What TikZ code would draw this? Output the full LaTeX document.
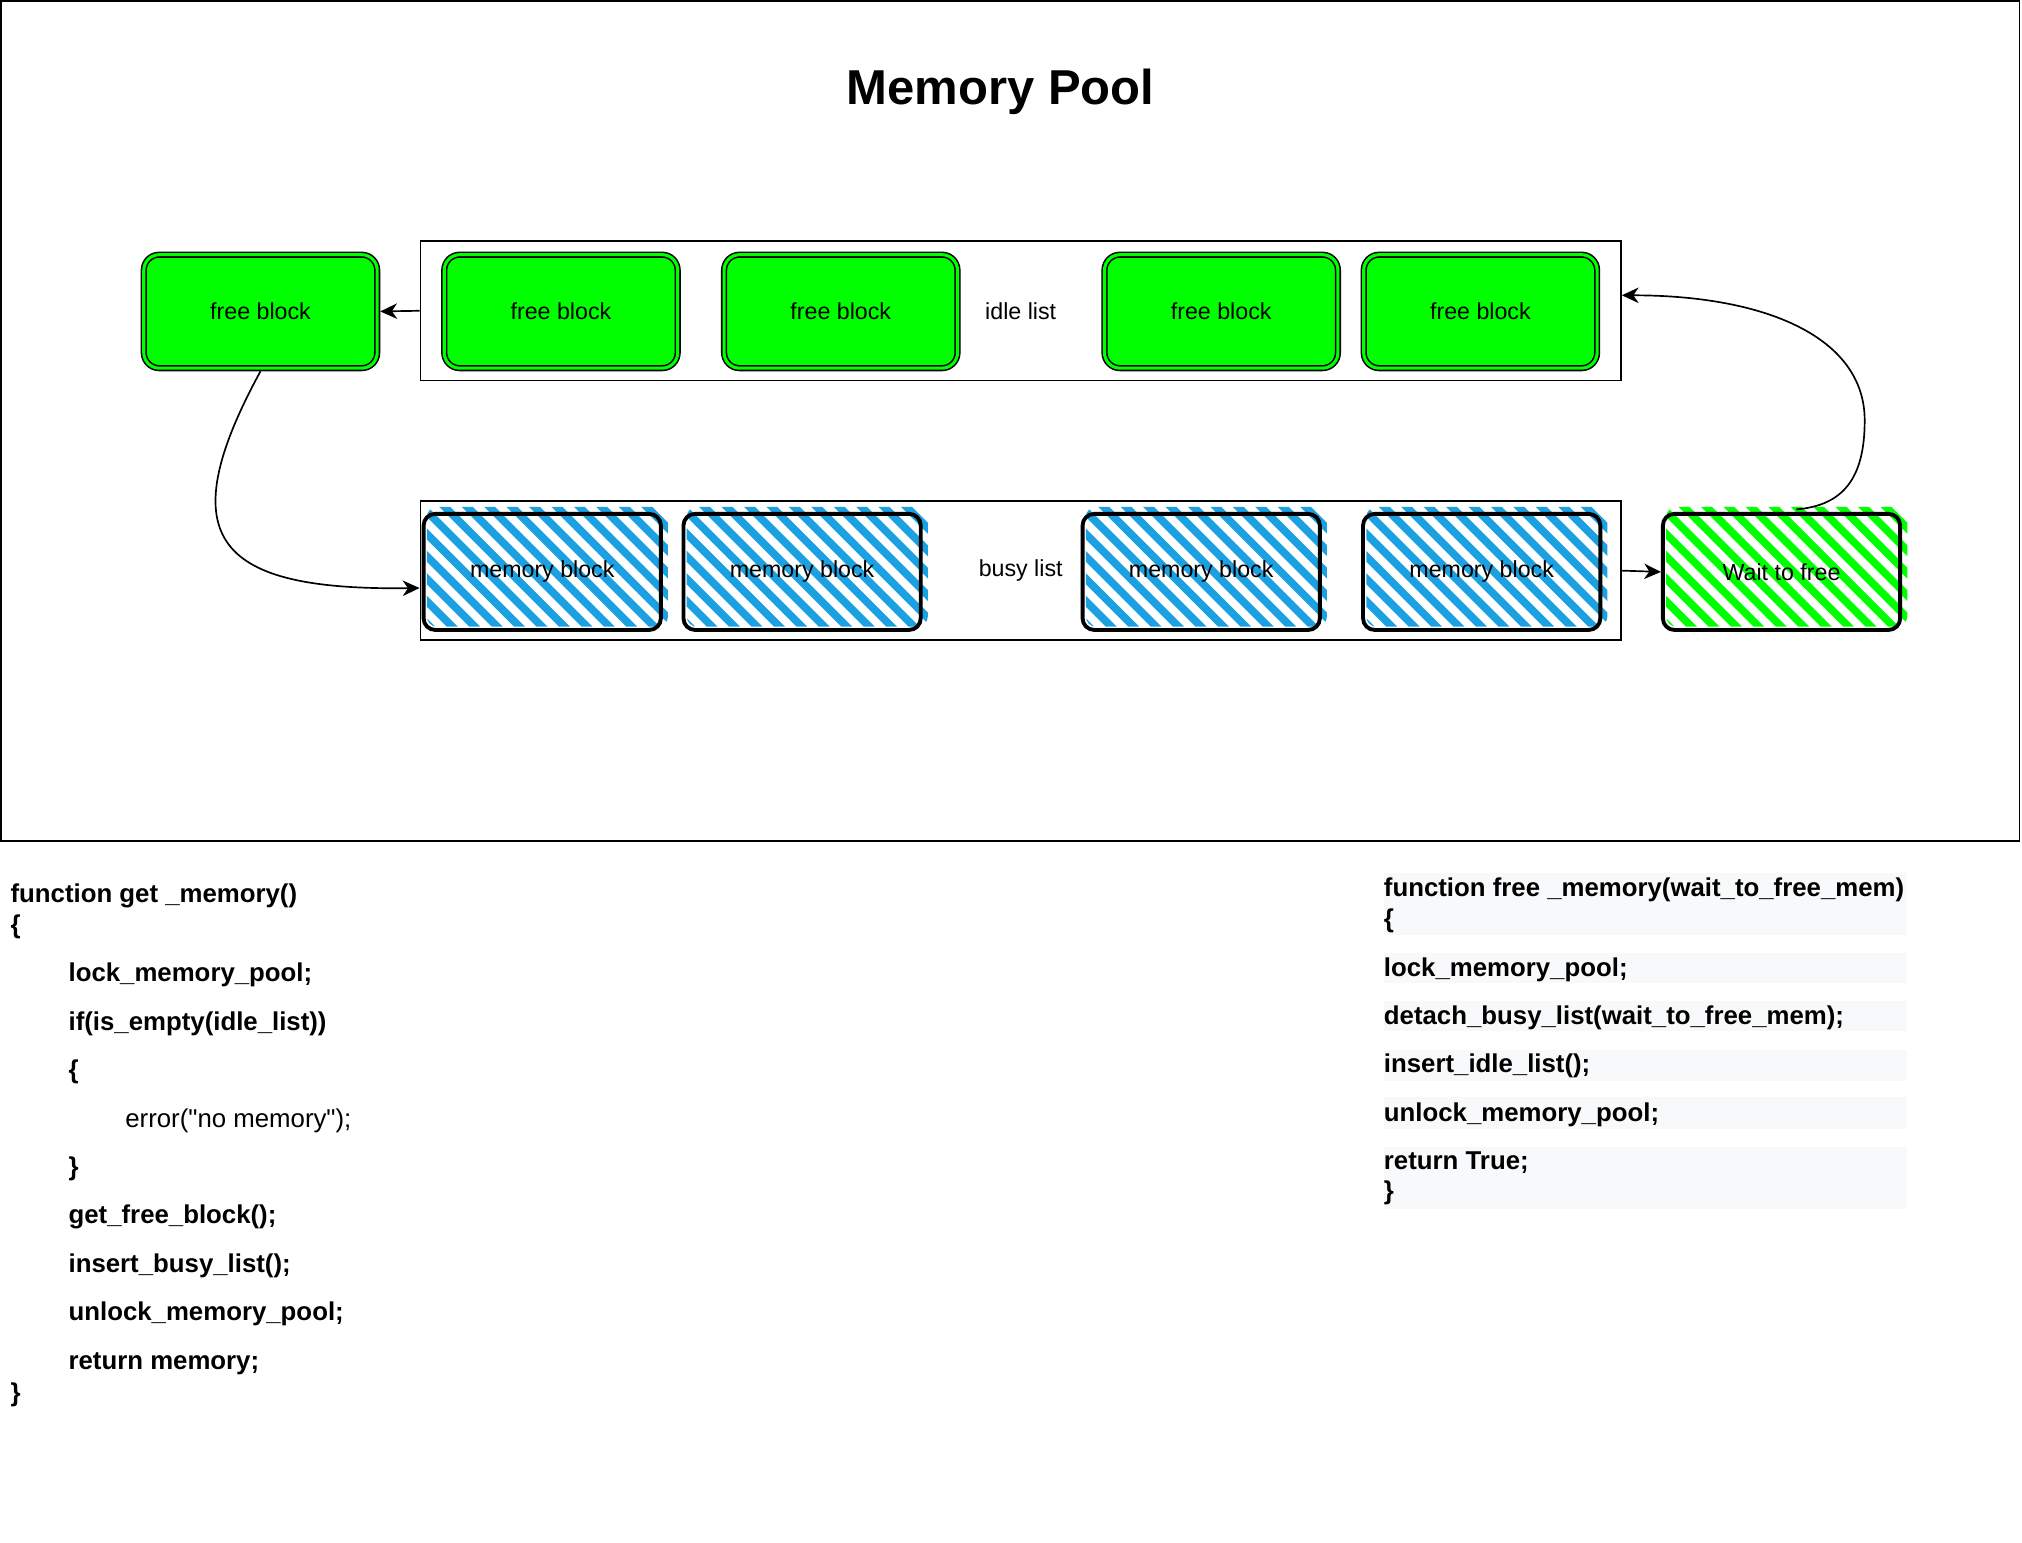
\documentclass[tikz,border=0pt]{standalone}
\usepackage{fontspec}
\setmainfont{Liberation Sans}
\usetikzlibrary{arrows.meta,calc,backgrounds}
\definecolor{fgreen}{HTML}{00FF00}
\definecolor{hblue}{HTML}{1BA1E2}
\definecolor{codebg}{HTML}{F8F9FA}
\newcommand\lblfont{\fontsize{18}{22}\selectfont}
\newcommand\codefont{\fontsize{20}{24}\selectfont\bfseries}
\newcommand\coderegfont{\fontsize{20}{24}\selectfont}
\newcommand\titlefont{\fontsize{38}{44}\selectfont\bfseries}
\begin{document}
\begin{tikzpicture}[x=1pt,y=-1pt,
  freeblk/.style={draw=black, double=fgreen, double distance=2.4pt, line width=1.2pt, fill=fgreen,
    rounded corners=12pt, minimum width=181pt, minimum height=88pt, outer sep=2.4pt, font=\lblfont, inner sep=0pt},
  memblk/.style={draw=black, line width=3pt, rounded corners=9pt, minimum width=184pt, minimum height=90pt,
    font=\lblfont, inner sep=0pt},
  listbox/.style={draw=black, line width=1.3pt, minimum width=931pt, minimum height=108pt, font=\lblfont, inner sep=0pt},
  arr/.style={line width=1.3pt, -{Stealth[length=13pt,width=12pt,inset=4pt]}},
  code/.style={anchor=base west, font=\codefont, inner sep=0pt},
  codereg/.style={anchor=base west, font=\coderegfont, inner sep=0pt},
  hatchline/.style={line width=6pt, line cap=round},
  bandbg/.style={fill=codebg}
]
\useasboundingbox (0,0) rectangle (1568,1196);

% outer frame
\draw[line width=1.3pt] (1,1) rectangle (1566,652);

% title
\node[font=\titlefont, anchor=base, inner sep=0pt] (title) at (776,81.4) {Memory Pool};

% lists
\node[listbox] (idle) at (791.5,241) {idle list};
\node[listbox] (busy) at (791.5,442.5) {busy list};

% free blocks
\node[freeblk] (f0) at (202,241.5) {free block};
\node[freeblk] (f1) at (435,241.5) {free block};
\node[freeblk] (f2) at (652,241.5) {free block};
\node[freeblk] (f3) at (947,241.5) {free block};
\node[freeblk] (f4) at (1148,241.5) {free block};

% memory blocks
\node[memblk] (m1) at (420.5,443.5) {memory block};
\node[memblk] (m2) at (622,443.5) {memory block};
\node[memblk] (m3) at (931.5,443.5) {memory block};
\node[memblk] (m4) at (1149,443.5) {memory block};
\node[memblk] (wt) at (1381.5,443.5) {Wait to free};

\begin{scope}[on background layer]
  \fill[white] (0,0) rectangle (1568,1196);
  \foreach \n/\c in {m1/hblue, m2/hblue, m3/hblue, m4/hblue, wt/fgreen} {
    \begin{scope}
      \clip[rounded corners=8pt] ($(\n.south west)+(4,-4)$) rectangle ($(\n.north east)+(4,-4)$);
      \foreach \k in {0,...,18}
        \draw[hatchline, draw=\c] ($(\n.north west)+(-110+\k*17.4,-10)$) -- ++(130,130);
    \end{scope}
  }
\end{scope}

% connectors
\coordinate (fin) at ($(busy.west)+(0,13.5)$);
\coordinate (wout) at ($(wt.north)+(11.5,-2)$);
\coordinate (iin) at ($(idle.east)+(0,-12)$);
\draw[arr] (idle.west) -- (f0.east);
\draw[arr] (f0.south) .. controls (130,420) and (170,458) .. (fin);
\draw[arr] (busy.east) -- (wt.west);
\draw[arr] (wout) .. controls (1430,392) and (1446,370) .. (1446,326) .. controls (1446,262) and (1370,229) .. (iin);

% left code
\node[code] (l1) at (8,700) {function get \_memory()};
\node[code] (l2) at (8,724) {\{};
\node[code] (l3) at (53,761) {lock\_memory\_pool;};
\node[code] (l4) at (53,799) {if(is\_empty(idle\_list))};
\node[code] (l5) at (53,836.5) {\{};
\node[codereg] (l6) at (97,874) {error(\textquotedbl no memory\textquotedbl);};
\node[code] (l7) at (53,911.5) {\}};
\node[code] (l8) at (53,949) {get\_free\_block();};
\node[code] (l9) at (53,986.5) {insert\_busy\_list();};
\node[code] (l10) at (53,1024) {unlock\_memory\_pool;};
\node[code] (l11) at (53,1062) {return memory;};
\node[code] (l12) at (8,1087) {\}};

% right code background bands
\fill[bandbg] (1073,677) rectangle (1479,724.7);
\fill[bandbg] (1073,738.9) rectangle (1479,762.2);
\fill[bandbg] (1073,776.4) rectangle (1479,799.7);
\fill[bandbg] (1073,813.9) rectangle (1479,838.5);
\fill[bandbg] (1073,850.9) rectangle (1479,875.5);
\fill[bandbg] (1073,889.7) rectangle (1479,937.3);

% right code
\node[code] (r1) at (1073,695) {function free \_memory(wait\_to\_free\_mem)};
\node[code] (r2) at (1073,719) {\{};
\node[code] (r3) at (1073,757) {lock\_memory\_pool;};
\node[code] (r4) at (1073,794.5) {detach\_busy\_list(wait\_to\_free\_mem);};
\node[code] (r5) at (1073,832) {insert\_idle\_list();};
\node[code] (r6) at (1073,869.5) {unlock\_memory\_pool;};
\node[code] (r7) at (1073,907) {return True;};
\node[code] (r8) at (1073,930) {\}};
\end{tikzpicture}
\end{document}
